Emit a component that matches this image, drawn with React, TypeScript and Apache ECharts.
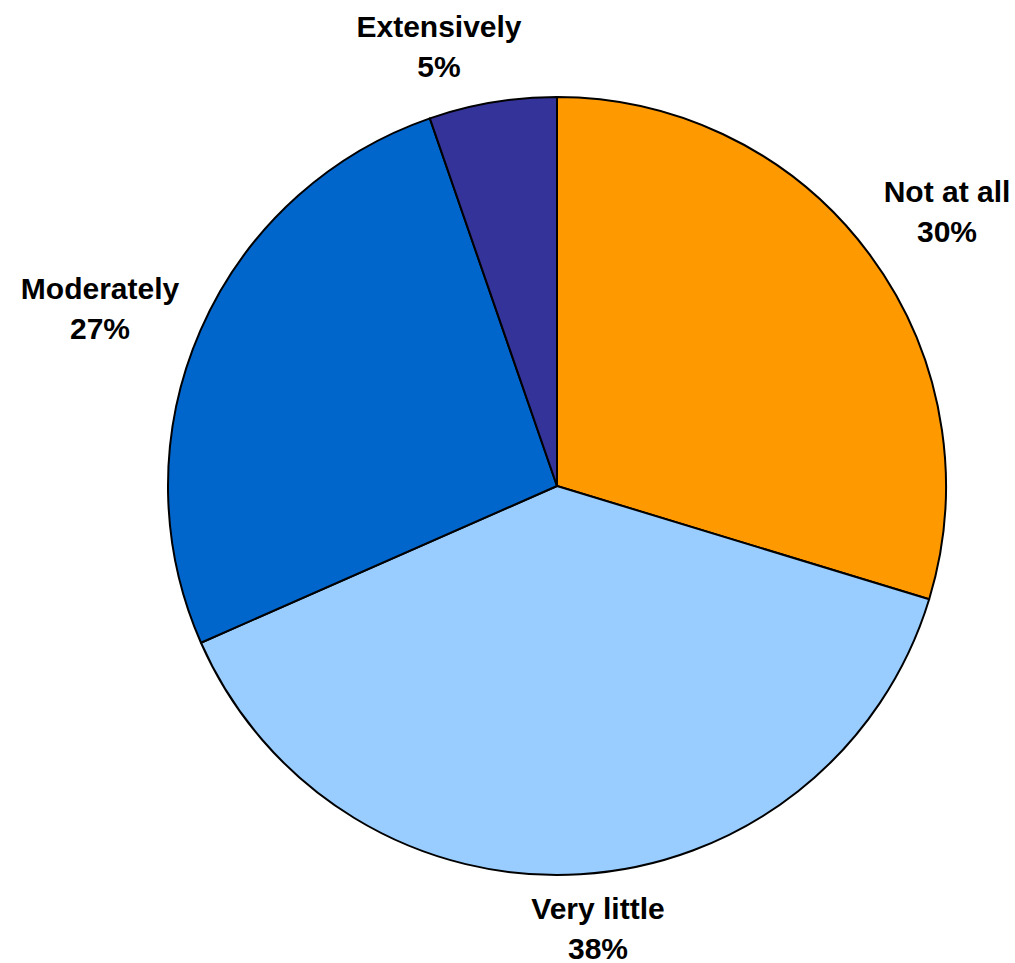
import React, { useEffect, useRef } from "react";
import * as echarts from "echarts";

const categories = ["Not at all", "Very little", "Moderately", "Extensively"];
const values = [29.7, 38.7, 26.3, 5.3];
const percentLabels = ["30%", "38%", "27%", "5%"];
const colors = ["#FF9900", "#99CCFF", "#0066CC", "#333399"];
const labelAnchors = [
  [947, 211],
  [598, 928],
  [100, 308],
  [439, 46],
];

export default function App() {
  const ref = useRef<HTMLDivElement>(null);
  useEffect(() => {
    document.body.style.margin = "0";
    const chart = echarts.init(ref.current!, null, { renderer: "svg" });
    chart.setOption({
      animation: false,
      backgroundColor: "#ffffff",
      series: [
        {
          type: "pie",
          center: [557, 486],
          radius: [0, 389],
          startAngle: 90,
          clockwise: true,
          avoidLabelOverlap: false,
          itemStyle: { borderColor: "#000000", borderWidth: 2 },
          emphasis: { disabled: true },
          label: {
            show: true,
            position: "outside",
            formatter: (p: any) => `${p.name}\n${percentLabels[p.dataIndex]}`,
            fontFamily: "Liberation Sans, Arial, sans-serif",
            fontWeight: "bold",
            fontSize: 30,
            lineHeight: 40,
            color: "#000000",
            align: "center",
          },
          labelLine: { show: false },
          labelLayout: (params: any) => ({
            x: labelAnchors[params.dataIndex][0],
            y: labelAnchors[params.dataIndex][1],
            align: "center",
            verticalAlign: "middle",
          }),
          data: categories.map((c, i) => ({
            name: c,
            value: values[i],
            itemStyle: { color: colors[i] },
          })),
        },
      ],
    });
    return () => chart.dispose();
  }, []);
  return <div ref={ref} style={{ width: 1015, height: 963 }} />;
}
